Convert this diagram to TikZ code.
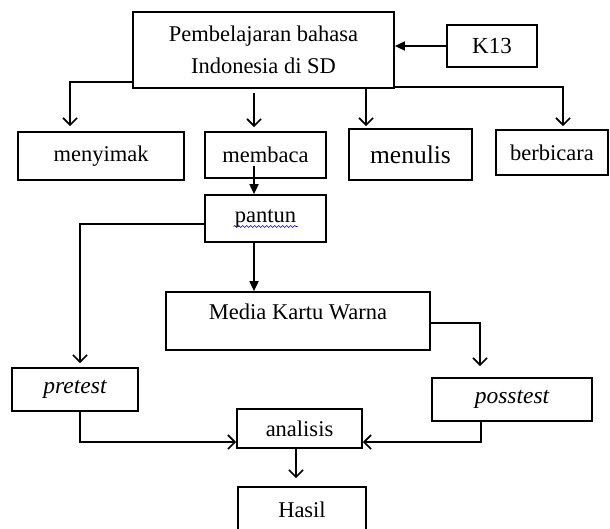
\documentclass[tikz,border=0pt]{standalone}
\usepackage{fontspec}
\setmainfont{Liberation Serif}
\usetikzlibrary{arrows.meta,decorations.pathmorphing}
\begin{document}
\begin{tikzpicture}[x=1pt,y=-1pt,
  box/.style={draw, line width=1.7pt, inner sep=0pt, font=\fontsize{22.5}{32}\selectfont, align=center},
  conn/.style={line width=1.7pt},
  openarr/.style={conn, -{Straight Barb[length=7pt,width=14pt,line width=1.7pt]}},
  fillarr/.style={conn, -{Triangle[length=10pt,width=9pt]}}]
\useasboundingbox (0,0) rectangle (610,528);
\fill[white] (0,0) rectangle (610,528);
% nodes
\node[box, minimum width=261pt, minimum height=76pt] (top) at (263.5,50) {Pembelajaran bahasa\\Indonesia di SD};
\node[box, minimum width=90pt, minimum height=42pt, font=\fontsize{23}{27}\selectfont] (k13) at (492,46) {K13};
\node[box, minimum width=166pt, minimum height=48pt] (menyimak) at (101,156) {menyimak};
\node[box, minimum width=121pt, minimum height=46pt] (membaca) at (265.5,155) {membaca};
\node[box, minimum width=123pt, minimum height=51pt, font=\fontsize{25.5}{30}\selectfont] (menulis) at (410.5,154.5) {menulis};
\node[box, minimum width=112pt, minimum height=45pt] (berbicara) at (552,152.5) {berbicara};
\node[box, minimum width=121pt, minimum height=47pt] (pantun) at (265.5,218.5) {pantun};
\node[box, minimum width=264pt, minimum height=58pt,
  label={[font=\fontsize{22.5}{27}\selectfont, anchor=center, yshift=-21pt]north:Media Kartu Warna}] (media) at (298,321) {};
\node[box, minimum width=126pt, minimum height=43pt, font=\fontsize{23.5}{28}\selectfont\itshape] (pretest) at (75,389.5) {pretest};
\node[box, minimum width=160pt, minimum height=43pt, font=\fontsize{23.5}{28}\selectfont\itshape] (posstest) at (512,399.5) {posstest};
\node[box, minimum width=125pt, minimum height=39pt] (analisis) at (299.5,428.5) {analisis};
\node[box, minimum width=128pt, minimum height=46pt] (hasil) at (302,510) {Hasil};
% spell-check underline under pantun
\draw[blue!80!black, line width=0.6pt, decorate, decoration={snake, amplitude=1pt, segment length=4pt}]
  ([xshift=-32pt, yshift=-8pt]pantun.center) -- ([xshift=32pt, yshift=-8pt]pantun.center);
% connectors
\draw[fillarr] (k13.west) -- (k13.west -| top.east);
\draw[openarr, shorten >=5pt] ([yshift=7pt]top.south west) -| ([xshift=-31pt]menyimak.north);
\draw[openarr, shorten <=4pt, shorten >=4pt] ([xshift=-11.5pt]membaca.north |- top.south) -- ([xshift=-11.5pt]membaca.north);
\draw[openarr, shorten >=2pt] ([xshift=-44.5pt]menulis.north |- top.south) -- ([xshift=-44.5pt]menulis.north);
\draw[openarr, shorten >=3pt] ([yshift=2pt]top.south east) -| ([xshift=11pt]berbicara.north);
\draw[fillarr] ([xshift=-11.5pt, yshift=13pt]membaca.south) -- ([xshift=-11.5pt]pantun.north);
\draw[openarr, shorten >=4pt] ([yshift=-5.5pt]pantun.west) -| ([xshift=5pt]pretest.north);
\draw[fillarr] ([xshift=-11.5pt]pantun.south) -- ([xshift=-11.5pt]pantun.south |- media.north);
\draw[openarr, shorten >=11pt] ([yshift=-2pt]media.east) -| ([xshift=-32pt]posstest.north);
\draw[openarr] ([xshift=5pt]pretest.south) |- ([yshift=-13.5pt]analisis.west);
\draw[openarr] ([xshift=-31pt]posstest.south) |- ([yshift=-13.5pt]analisis.east);
\draw[openarr, shorten >=8pt] ([xshift=-3.5pt]analisis.south) -- ([xshift=-3.5pt]analisis.south |- hasil.north);
\end{tikzpicture}
\end{document}
